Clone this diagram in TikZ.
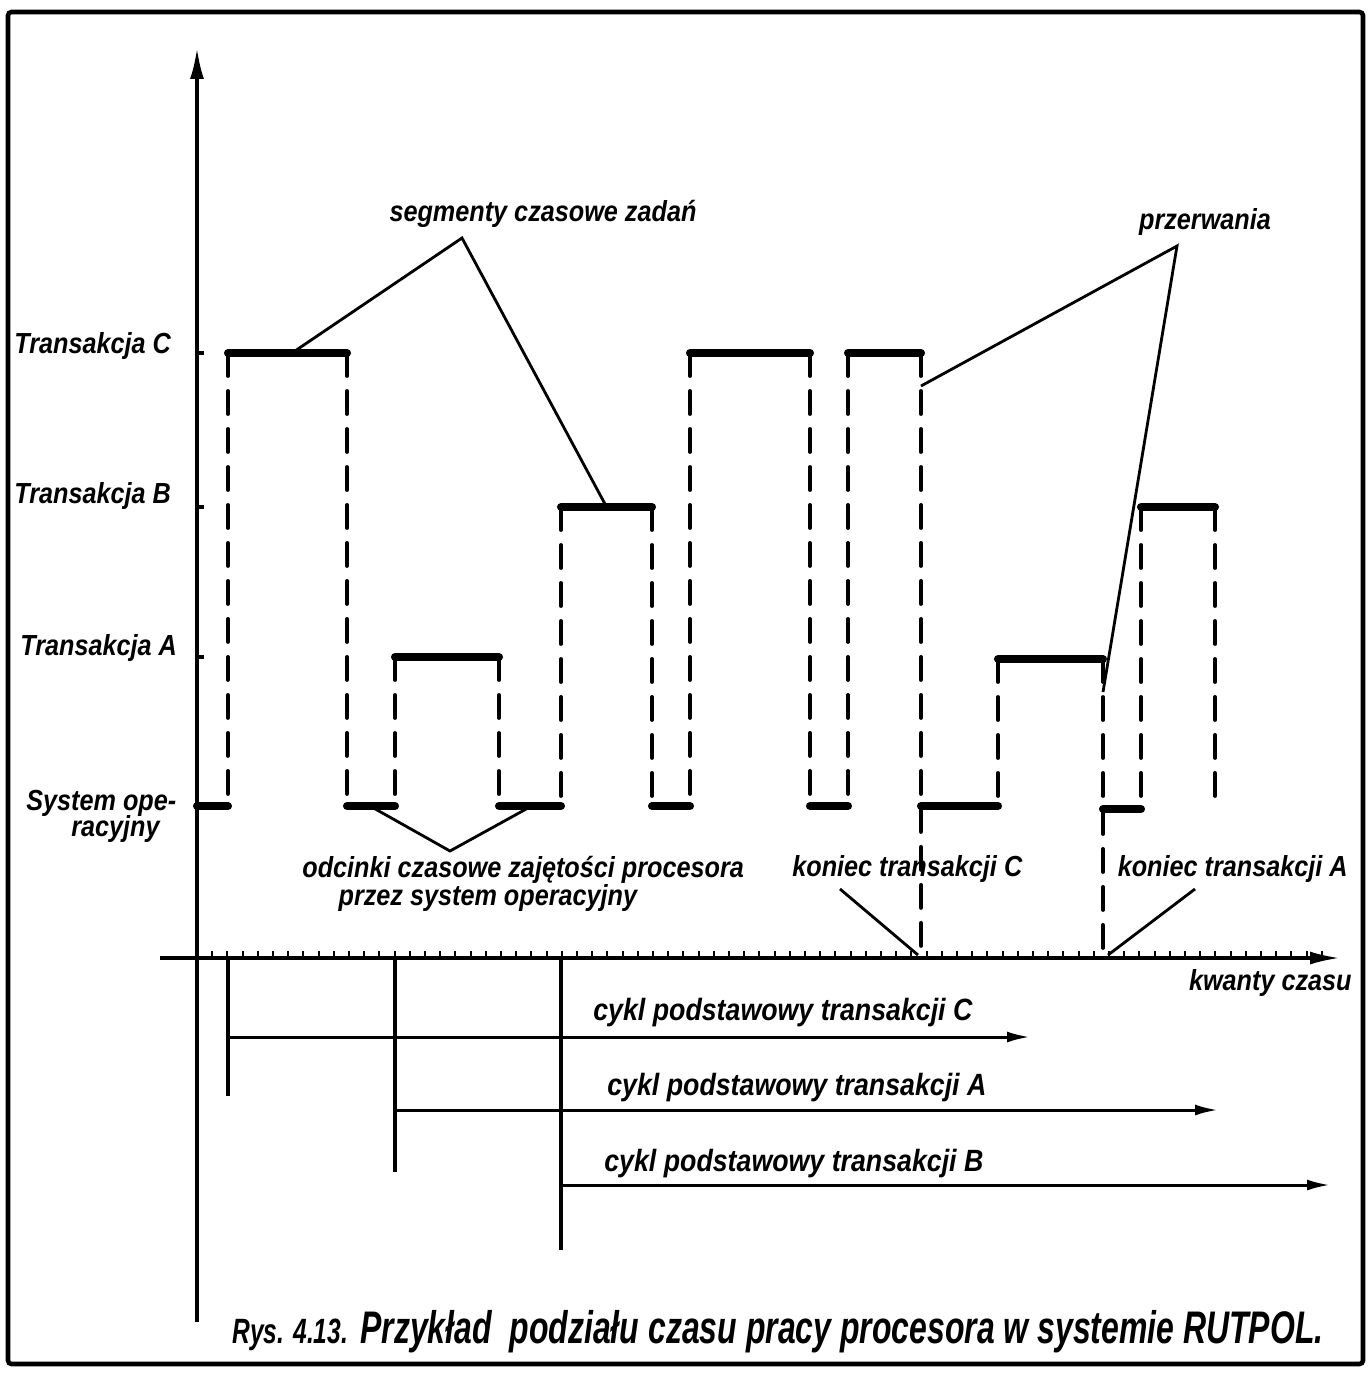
\documentclass[tikz,border=0pt]{standalone}
\usepackage{fontspec}
\setmainfont{Liberation Sans}
\newfontfamily\lbfamily[FakeStretch=0.87]{Liberation Sans}
\newfontfamily\capfamily[FakeStretch=0.70]{Liberation Sans}
\usetikzlibrary{arrows.meta}

\newcommand{\lbfont}{\lbfamily\bfseries\itshape\fontsize{16.5}{16}\selectfont}
\newcommand{\cycfont}{\lbfamily\bfseries\itshape\fontsize{17.5}{18}\selectfont}

\begin{document}
\begin{tikzpicture}[x=0.02cm, y=-0.02cm,
  lbl/.style={font=\lbfont, inner sep=0pt},
  cyclbl/.style={font=\cycfont, inner sep=0pt},
  seg/.style={line width=4.6pt, line cap=round},
  swline/.style={line width=2.2pt, line cap=round, dash pattern=on 4.6mm off 3.0mm},
  axis/.style={line width=1.8pt},
  lead/.style={line width=1.6pt},
  cycarr/.style={line width=1.7pt, -{Latex[length=4.6mm,width=2.2mm]}}
]
\useasboundingbox (0,0) rectangle (1371,1373);
\draw[line width=2.6pt, rounded corners=2pt] (8,12) rectangle (1363,1364);

% axes and time quanta
\draw[axis, -{Latex[length=6.2mm,width=2.8mm]}] (197,1322) -- (197,48);
\draw[axis, -{Latex[length=6mm,width=2.6mm]}] (160,958) -- (1340,958);
\foreach \k in {1,...,74}
  \draw[line width=1.2pt] (197+15.2*\k,951) -- (197+15.2*\k,958);
\draw[axis] (197,353) -- (204,353);
\draw[axis] (197,507) -- (204,507);
\draw[axis] (197,657) -- (204,657);

% levels
\node[lbl, anchor=base west] (lvlC) at (14,353) {Transakcja C};
\node[lbl, anchor=base west] (lvlB) at (14,503) {Transakcja B};
\node[lbl, anchor=base west] (lvlA) at (20,655) {Transakcja A};
\node[lbl, anchor=north west, align=left] (lvlOS) at (26,790)
  {System ope-\\[-1pt]\hspace*{1.55em}racyjny};

% processor time slices
\draw[seg] (197,806) -- (228,806);
\draw[seg] (228,353) -- (347,353);
\draw[seg] (347,806) -- (395,806);
\draw[seg] (395,657) -- (499,657);
\draw[seg] (499,806) -- (561,806);
\draw[seg] (561,507) -- (652,507);
\draw[seg] (652,806) -- (690,806);
\draw[seg] (690,353) -- (810,353);
\draw[seg] (810,806) -- (848,806);
\draw[seg] (848,353) -- (921,353);
\draw[seg] (921,806) -- (998,806);
\draw[seg] (998,659) -- (1103,659);
\draw[seg] (1103,809) -- (1141,809);
\draw[seg] (1141,507) -- (1215,507);

% switching
\draw[swline] (228,353) -- (228,806);
\draw[swline] (347,353) -- (347,806);
\draw[swline] (395,657) -- (395,806);
\draw[swline] (499,657) -- (499,806);
\draw[swline] (561,507) -- (561,806);
\draw[swline] (652,507) -- (652,806);
\draw[swline] (690,353) -- (690,806);
\draw[swline] (810,353) -- (810,806);
\draw[swline] (848,353) -- (848,806);
\draw[swline] (921,353) -- (921,958);
\draw[swline] (998,659) -- (998,806);
\draw[swline] (1103,659) -- (1103,958);
\draw[swline] (1141,507) -- (1141,809);
\draw[swline] (1215,507) -- (1215,806);

% annotations
\node[lbl, anchor=base] (segm) at (543,221) {segmenty czasowe zadań};
\coordinate (segmtip) at (462,238);
\coordinate (segmC) at (292,353);
\coordinate (segmB) at (605,504);
\draw[lead] (segmC) -- (segmtip) -- (segmB);

\node[lbl, anchor=base] (irq) at (1205,229) {przerwania};
\coordinate (irqtip) at (1177,246);
\coordinate (irqC) at (921,386);
\coordinate (irqA) at (1103,692);
\draw[lead] (irqC) -- (irqtip) -- (irqA);

\node[lbl, anchor=north west, align=left] (osgap) at (302,856)
  {odcinki czasowe zajętości procesora\\\hspace*{1.25em}przez system operacyjny};
\coordinate (osgapL) at (370,806);
\coordinate (osgaptip) at (450,851);
\coordinate (osgapR) at (528,808);
\draw[lead] (osgapL) -- (osgaptip) -- (osgapR);

\node[lbl, anchor=base west] (endC) at (792,876) {koniec transakcji C};
\node[lbl, anchor=base east] (endA) at (1348,876) {koniec transakcji A};
\coordinate (endCtip) at (840,889);
\coordinate (endCax) at (918,955);
\coordinate (endAtip) at (1195,889);
\coordinate (endAax) at (1108,955);
\draw[lead] (endCtip) -- (endCax);
\draw[lead] (endAtip) -- (endAax);

\node[lbl, anchor=base east] (quanta) at (1352,990) {kwanty czasu};

% basic cycles
\coordinate (startC) at (228,958);
\coordinate (startA) at (395,958);
\coordinate (startB) at (561,958);
\draw[axis] (startC) -- (228,1096);
\draw[axis] (startA) -- (395,1172);
\draw[axis] (startB) -- (561,1250);
\draw[cycarr] (228,1037) -- (1030,1037);
\draw[cycarr] (395,1110) -- (1218,1110);
\draw[cycarr] (561,1185) -- (1330,1185);
\node[cyclbl, anchor=base west] (cycC) at (593,1020) {cykl podstawowy transakcji C};
\node[cyclbl, anchor=base west] (cycA) at (607,1095) {cykl podstawowy transakcji A};
\node[cyclbl, anchor=base west] (cycB) at (604,1171) {cykl podstawowy transakcji B};

\node[anchor=base west, inner sep=0pt, font=\capfamily\bfseries\itshape] (caption) at (232,1343)
  {{\bfseries\fontsize{20}{22}\selectfont Rys. 4.13.}\hspace{7pt}{\fontsize{26}{28}\selectfont Przykład\ \ podziału czasu pracy procesora w systemie RUTPOL.}};
\end{tikzpicture}
\end{document}
